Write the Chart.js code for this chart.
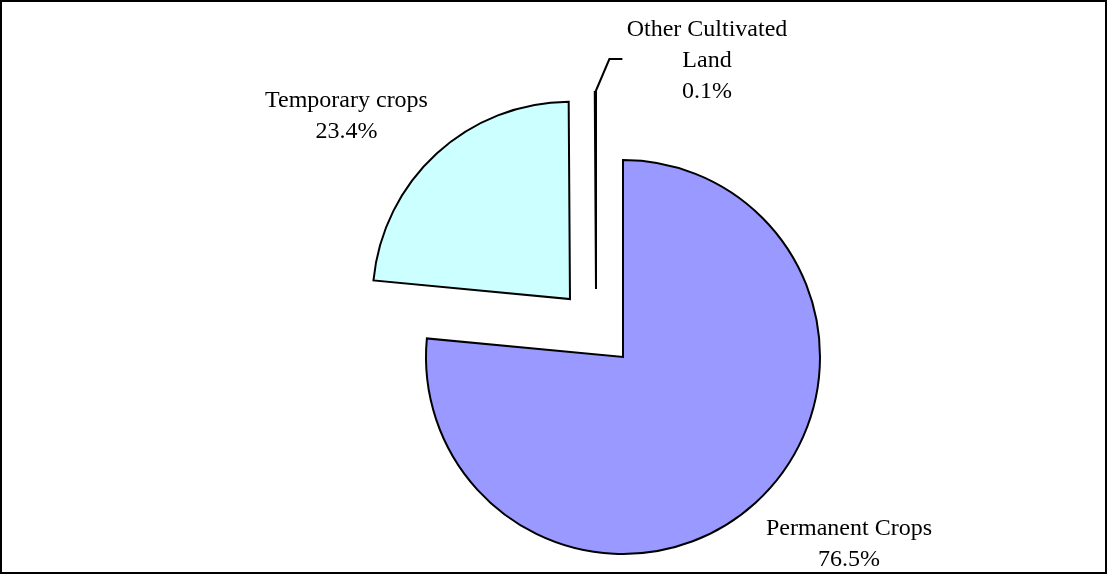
<!DOCTYPE html>
<html>
<head>
<meta charset="utf-8">
<script src="https://cdn.jsdelivr.net/npm/chart.js@4.4.0/dist/chart.umd.min.js"></script>
<style>
  html, body { margin: 0; padding: 0; background: #fff; }
  #wrap { width: 1108px; height: 575px; }
</style>
</head>
<body>
<div id="wrap"><canvas id="landChart" width="1108" height="575"></canvas></div>
<script>
// data
const categories = ["Permanent Crops", "Temporary crops", "Other Cultivated Land"];
const shares = [76.5, 23.4, 0.1];
const sliceColors = ["#9999FF", "#CCFFFF", "#993366"];
// label text as wrapped in the original
const labelLines = [["Permanent Crops"], ["Temporary crops"], ["Other Cultivated", "Land"]];

// layout bits (px)
const labelOffsets = [[226, 178], [-276.5, -250], [111, -253]]; // first baseline, from slice centre
const sliverShift = [-27, -68]; // the tiny slice is pulled out up-left
const LINE_H = 31;

// moves the 0.1% slice out, Chart.js offset would blow its radius up
const sliverPlugin = {
    id: "sliver",
    afterDatasetUpdate(chart, args) {
        const el = args.meta.data[2];
        if (!el) return;
        el.x += sliverShift[0];
        el.y += sliverShift[1];
    }
};

// labels outside the pie + leader line for the small slice
const labelPlugin = {
    id: "sliceLabels",
    afterDatasetsDraw(chart) {
        const ctx = chart.ctx;
        const meta = chart.getDatasetMeta(0);
        ctx.save();
        ctx.font = '24px "Liberation Serif"';
        ctx.fillStyle = "#000";
        ctx.textAlign = "center";
        ctx.textBaseline = "alphabetic";
        meta.data.forEach((el, i) => {
            const x0 = el.x + labelOffsets[i][0];
            const y0 = el.y + labelOffsets[i][1];
            const lines = labelLines[i].concat([shares[i].toFixed(1) + "%"]);
            lines.forEach((t, k) => ctx.fillText(t, x0, y0 + k * LINE_H));
        });

        // leader for "Other Cultivated Land"
        const s = meta.data[2];
        const mid = (s.startAngle + s.endAngle) / 2;
        const px = s.x + Math.cos(mid) * s.outerRadius;
        const py = s.y + Math.sin(mid) * s.outerRadius;
        ctx.strokeStyle = "#000";
        ctx.lineWidth = 2;
        ctx.beginPath();
        ctx.moveTo(px, py);
        ctx.lineTo(px + 14, py - 33);
        ctx.lineTo(px + 27, py - 33);
        ctx.stroke();
        ctx.restore();
    },
    afterDraw(chart) {
        // outer frame
        const ctx = chart.ctx;
        ctx.save();
        ctx.strokeStyle = "#000";
        ctx.lineWidth = 2;
        ctx.strokeRect(1, 1, chart.width - 3, chart.height - 3);
        ctx.restore();
    }
};

new Chart(document.getElementById("landChart"), {
    type: "pie",
    data: {
        labels: categories,
        datasets: [{
            data: shares,
            backgroundColor: sliceColors,
            borderColor: "#000",
            borderWidth: 2,
            borderJoinStyle: "miter",
            offset: [0, 314, 0],
            clip: false
        }]
    },
    options: {
        responsive: false,
        devicePixelRatio: 1,
        animation: false,
        events: [],
        radius: 197,
        layout: { padding: { left: 138, top: 139, right: 0, bottom: 0 } },
        plugins: {
            legend: { display: false },
            tooltip: { enabled: false }
        }
    },
    plugins: [sliverPlugin, labelPlugin]
});
</script>
</body>
</html>
